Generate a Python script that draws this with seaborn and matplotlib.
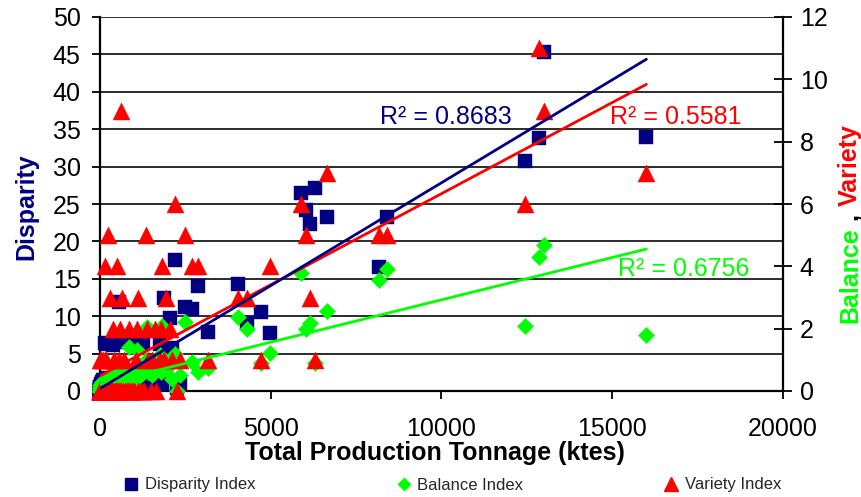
import numpy as np
import pandas as pd
import matplotlib
matplotlib.use("Agg")
import matplotlib.pyplot as plt
from matplotlib.lines import Line2D
import seaborn as sns

# ---------------- data ----------------
tonnage = [
    # dense cluster near the origin
    0, 0, 0, 0, 0, 0, 0, 0, 0, 0, 0, 0,
    5, 10, 15, 20, 25, 30, 35, 40, 45, 50, 55, 60, 65, 70, 75, 80, 85, 90,
    100, 110, 120, 130,
    150, 170, 190, 210, 230, 250, 270, 290,
    320, 350, 380, 410, 440, 470,
    500, 530, 560, 590, 620,
    660, 700, 740, 780, 820, 860, 900,
    950, 1000, 1050, 1100,
    1200, 1300, 1400, 1500, 1650,
    180, 260,
    # low-tonnage group
    150, 150, 240, 290, 380, 500, 560, 600, 615, 640, 850, 1000, 1080, 1120,
    1250, 1340, 1380, 1520, 1600, 1760, 1800, 1810, 1870, 1930, 2050, 2100,
    2200, 2260, 2330,
    # mid / high tonnage
    2480, 2700, 2870, 3150, 4050, 4300, 4700, 4980, 5880, 6030, 6150, 6300,
    6650, 8170, 8400, 12450, 12850, 13000, 16000,
]
disparity = [
    0, 0, 0.3, 0, 0.5, 0, 0, 0.2, 0, 0, 0.4, 0,
    0.6, 0, 0.2, 1.0, 0, 0.3, 0, 0.5, 0, 1.2, 0.2, 0, 0.4, 0, 0.8, 0, 0.3, 1.5,
    0, 0.6, 0.2, 0.9,
    0.3, 1.2, 0, 0.5, 1.8, 0.2, 0.7, 0.4,
    1.0, 0.3, 1.4, 0.6, 0.2, 1.1,
    0.4, 1.6, 0.8, 0.3, 1.9,
    0.9, 0.5, 2.0, 1.2, 0.6, 2.3, 1.4,
    0.6, 1.8, 1.0, 2.0,
    1.0, 2.2, 1.4, 2.4, 2.6,
    0.1, 0.5,
    6.4, 1.5, 6.3, 1.0, 6.2, 1.0, 11.9, 1.2, 6.5, 1.0, 1.5, 6.4, 1.5, 2.0,
    6.4, 2.0, 1.5, 1.0, 1.5, 6.3, 1.5, 1.0, 12.4, 2.0, 9.7, 5.7,
    17.5, 0.4, 1.0,
    11.2, 11.0, 14.0, 7.9, 14.3, 9.1, 10.6, 7.75, 26.5, 24.2, 22.3, 27.1,
    23.3, 16.6, 23.3, 30.8, 33.8, 45.3, 34.0,
]
balance = [
    0, 0, 0, 0, 0.1, 0, 0, 0, 0, 0.2, 0, 0,
    0, 0.1, 0, 0, 0.2, 0, 0, 0.1, 0, 0, 0.3, 0, 0, 0.1, 0, 0, 0.2, 0,
    0, 0.1, 0, 0.2,
    0, 0.3, 0, 0.1, 0, 0.4, 0.1, 0,
    0.2, 0, 0.3, 0.1, 0, 0.4,
    0.1, 0.5, 0.2, 0, 0.3,
    0.4, 0.1, 0.5, 0.2, 0.6, 0.3, 0.5,
    0.2, 0.6, 0.4, 0.7,
    0.5, 0.8, 0.6, 0.9, 1.0,
    0, 0,
    0.3, 0.1, 0.4, 0.2, 0.5, 0.3, 0.6, 0.2, 0.8, 0.4, 1.4, 0.5, 1.3, 0.6,
    0.7, 1.0, 2.05, 0.5, 0.8, 1.15, 0.6, 2.1, 1.0, 0.7, 0.9, 0.4,
    1.2, 0.0, 0.5,
    2.2, 0.93, 0.6, 0.74, 2.37, 2.0, 0.9, 1.22, 3.8, 2.0, 2.18, 0.9,
    2.57, 3.56, 3.9, 2.1, 4.3, 4.7, 1.8,
]
variety = [
    0, 0, 0, 0, 1, 0, 0, 0, 0, 0, 0, 0,
    0, 0, 0, 0, 0, 1, 0, 0, 0, 0, 0, 0, 0, 0, 0, 1, 0, 0,
    0, 0, 0, 0,
    0, 0, 1, 0, 0, 0, 0, 0,
    0, 0, 0, 1, 0, 0,
    0, 0, 0, 0, 0,
    0, 1, 0, 0, 0, 0, 0,
    0, 0, 1, 0,
    0, 0, 1, 0, 0,
    0, 0,
    4, 1, 5, 3, 2, 4, 1, 2, 9, 3, 2, 0, 2, 3,
    0, 5, 2, 1, 2, 1, 2, 4, 1, 3, 2, 1,
    6, 0, 1,
    5, 4, 4, 1, 3, 3, 1, 4, 6, 5, 3, 1,
    7, 5, 5, 6, 11, 9, 7,
]

series_names = ["Disparity Index", "Balance Index", "Variety Index"]
r2_texts = ["R² = 0.8683", "R² = 0.5581", "R² = 0.6756"]
x_ticks = [0, 5000, 10000, 15000, 20000]
left_ticks = [0, 5, 10, 15, 20, 25, 30, 35, 40, 45, 50]
right_ticks = [0, 2, 4, 6, 8, 10, 12]

NAVY, LIME, RED = "#000080", "#00FF00", "#FF0000"

df = pd.DataFrame({"tonnage": tonnage, "disparity": disparity,
                   "balance": balance, "variety": variety})

# ---------------- style ----------------
sns.set_style("white")
plt.rcParams["font.family"] = ["Liberation Sans", "DejaVu Sans"]

W, H = 862, 497
fig = plt.figure(figsize=(W / 100, H / 100), dpi=100)
L, R, T, B = 100, 783, 17, 391
ax = fig.add_axes([L / W, 1 - B / H, (R - L) / W, (B - T) / H])
ax2 = ax.twinx()   # Balance / Variety (secondary axis)
ax3 = ax.twinx()   # overlay for disparity trend line (drawn on top)

# ---------------- markers ----------------
sns.scatterplot(data=df, x="tonnage", y="disparity", ax=ax, marker="s", s=100,
                color=NAVY, edgecolor=NAVY, linewidth=0.3, clip_on=False,
                zorder=3, legend=False)
sns.scatterplot(data=df, x="tonnage", y="balance", ax=ax2, marker="D", s=68,
                color=LIME, edgecolor=LIME, linewidth=0.3, clip_on=False,
                zorder=3, legend=False)
sns.scatterplot(data=df, x="tonnage", y="variety", ax=ax2, marker="^", s=150,
                color=RED, edgecolor=RED, linewidth=0.3, clip_on=False,
                zorder=4, legend=False)

# ---------------- trend lines ----------------
sns.regplot(data=df, x="tonnage", y="balance", ax=ax2, scatter=False, ci=None,
            truncate=True, color=LIME, line_kws=dict(linewidth=2.0, zorder=5))
sns.regplot(data=df, x="tonnage", y="variety", ax=ax2, scatter=False, ci=None,
            truncate=True, color=RED, line_kws=dict(linewidth=2.0, zorder=6))
sns.regplot(data=df, x="tonnage", y="disparity", ax=ax3, scatter=False, ci=None,
            truncate=True, color=NAVY, line_kws=dict(linewidth=2.0, zorder=7))

# ---------------- axes ----------------
for a in (ax, ax2, ax3):
    a.set_xlim(0, 20000)
ax.set_ylim(0, 50)
ax3.set_ylim(0, 50)
ax2.set_ylim(0, 12)
ax3.set_axis_off()

ax.set_xticks(x_ticks)
ax.set_xticklabels([str(v) for v in x_ticks])
ax.set_yticks(left_ticks)
ax.set_yticklabels([str(v) for v in left_ticks])
ax2.set_yticks(right_ticks)
ax2.set_yticklabels([str(v) for v in right_ticks])

ax.grid(axis="y", color="#1a1a1a", linewidth=1.3)
ax.grid(axis="x", visible=False)
ax2.grid(False)
ax.set_axisbelow(True)

for a in (ax, ax2):
    for sp in a.spines.values():
        sp.set_color("black")
        sp.set_linewidth(1.6)
ax.spines["right"].set_visible(False)
ax.spines["top"].set_visible(False)
ax2.spines["left"].set_visible(False)
ax2.spines["bottom"].set_visible(False)
ax2.spines["top"].set_visible(False)

ax.tick_params(axis="y", direction="out", length=6, width=1.3, pad=8,
               labelsize=18, colors="black", left=True)
ax.tick_params(axis="x", direction="out", length=5.5, width=1.3, pad=13,
               labelsize=18, colors="black", bottom=True)
ax2.tick_params(axis="y", direction="inout", length=13, width=1.3, pad=5.5,
                labelsize=18, colors="black", right=True)

ax.set_xlabel("Total Production Tonnage (ktes)", fontsize=18,
              fontweight="bold", color="black")
ax.xaxis.set_label_coords((435 - L) / (R - L), (B - 441) / (B - T))
ax.set_ylabel("Disparity", fontsize=18, fontweight="bold", color=NAVY)
ax.yaxis.set_label_coords((38 - L) / (R - L), (B - 207) / (B - T))
ax2.set_ylabel("")

# right axis title in three colours
renderer = fig.canvas.get_renderer()
kw = dict(rotation=90, rotation_mode="anchor", ha="left", va="baseline",
          fontsize=18, fontweight="bold")
y0 = 323
t1 = fig.text(857 / W, 1 - y0 / H, "Balance", color=LIME, **kw)
top = H - t1.get_window_extent(renderer).y1
fig.text(857 / W, 1 - (top - 7) / H, ",", color="black", **kw)
fig.text(857 / W, 1 - (top - 21) / H, "Variety", color=RED, **kw)

# R² labels
ax3.text((380 - L) / (R - L), (B - 117) / (B - T), r2_texts[0], color=NAVY,
         fontsize=18, va="center", transform=ax3.transAxes)
ax3.text((610 - L) / (R - L), (B - 117) / (B - T), r2_texts[1], color=RED,
         fontsize=18, va="center", transform=ax3.transAxes)
ax3.text((618 - L) / (R - L), (B - 269) / (B - T), r2_texts[2], color=LIME,
         fontsize=18, va="center", transform=ax3.transAxes)

# legend
handles = [
    Line2D([], [], marker="s", linestyle="none", color=NAVY, markersize=8.6),
    Line2D([], [], marker="D", linestyle="none", color=LIME, markersize=6.3),
    Line2D([], [], marker="^", linestyle="none", color=RED, markersize=9.5),
]
fig.legend(handles, series_names, loc="center", ncol=3, frameon=False,
           bbox_to_anchor=(452 / W, 1 - 485 / H), fontsize=12,
           handlelength=1.0, handletextpad=0.3, columnspacing=8.4)

fig.savefig("out.png", dpi=100)
